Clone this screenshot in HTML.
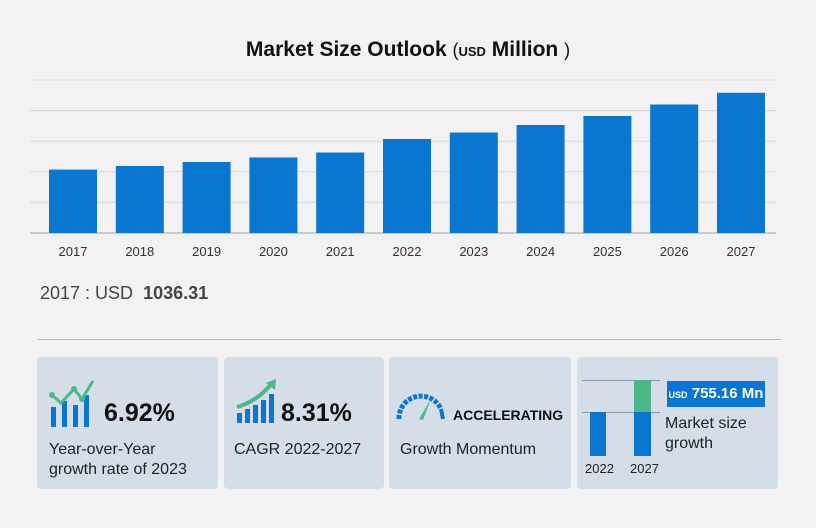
<!DOCTYPE html>
<html><head><meta charset="utf-8"><style>
body{margin:0;width:816px;height:528px;background:#f2f2f4;font-family:"Liberation Sans",sans-serif;position:relative;overflow:hidden}
.a{position:absolute}
.card{position:absolute;top:357px;height:132px;background:#d5dde9;border-radius:4px}
.big{font-weight:bold;font-size:25px;color:#111}
.txt{font-size:16px;color:#222;line-height:20px}
</style></head><body>
<div class="a" style="left:0;width:816px;top:38px;text-align:center;font-weight:bold;font-size:21px;color:#111">Market Size Outlook <span style="font-weight:normal;font-size:18px">(</span><span style="font-size:13px">USD</span> Million <span style="font-weight:normal;font-size:18px">)</span></div>
<svg class="a" style="left:0;top:0" width="816" height="270">
<g id="grid"></g><g id="bars"></g><g id="xl"></g>
</svg>
<div class="a" style="left:40px;top:283px;font-size:18px;color:#444">2017 : USD &nbsp;<b>1036.31</b></div>
<div class="a" style="left:37px;top:339px;width:744px;height:1px;background:#b8b8cc"></div>

<div class="card" style="left:37px;width:181px">
<svg class="a" style="left:12px;top:20px" width="50" height="52">
<rect x="2" y="30" width="5" height="20" fill="#0a76d0"/><rect x="13" y="24" width="5" height="26" fill="#0a76d0"/><rect x="24" y="28" width="5" height="22" fill="#0a76d0"/><rect x="35" y="18" width="5" height="32" fill="#0a76d0"/>
<polyline points="3,18 12,26 25,12 33,22 44,4" fill="none" stroke="#4cb88a" stroke-width="3"/><circle cx="3" cy="18" r="3" fill="#4cb88a"/><circle cx="25" cy="12" r="3" fill="#4cb88a"/><circle cx="33" cy="22" r="3" fill="#4cb88a"/></svg>
<div class="a big" style="left:67px;top:42px">6.92%</div>
<div class="a txt" style="left:12px;top:83px">Year-over-Year<br>growth rate of 2023</div></div>

<div class="card" style="left:224px;width:160px">
<svg class="a" style="left:12px;top:22px" width="44" height="46">
<rect x="1" y="34" width="5" height="10" fill="#0a76d0"/><rect x="9" y="30" width="5" height="14" fill="#0a76d0"/><rect x="17" y="26" width="5" height="18" fill="#0a76d0"/><rect x="25" y="21" width="5" height="23" fill="#0a76d0"/><rect x="33" y="15" width="5" height="29" fill="#0a76d0"/>
<path d="M1,28 Q22,22 36,4" fill="none" stroke="#4cb88a" stroke-width="4"/><polygon points="30,4 40,0 39,11" fill="#4cb88a"/></svg>
<div class="a big" style="left:57px;top:42px">8.31%</div>
<div class="a txt" style="left:10px;top:83px">CAGR 2022-2027</div></div>

<div class="card" style="left:389px;width:182px">
<svg class="a" style="left:6px;top:30px" width="52" height="36">
<path d="M4,32 A22,22 0 0 1 46,22" fill="none" stroke="#0a76d0" stroke-width="5" stroke-dasharray="4 1.5"/><line x1="46" y1="22" x2="48" y2="32" stroke="#0a76d0" stroke-width="4"/><polygon points="24,32 36,12 28,33" fill="#4cb88a"/></svg>
<div class="a" style="left:64px;top:50px;font-weight:bold;font-size:14px;color:#111">ACCELERATING</div>
<div class="a txt" style="left:11px;top:83px">Growth Momentum</div></div>

<div class="card" style="left:577px;width:201px">
<div class="a" style="left:5px;top:23px;width:78px;height:1px;background:#8a9aae"></div>
<div class="a" style="left:5px;top:55px;width:78px;height:1px;background:#8a9aae"></div>
<div class="a" style="left:13px;top:55px;width:16px;height:44px;background:#0a76d0"></div>
<div class="a" style="left:57px;top:55px;width:17px;height:44px;background:#0a76d0"></div>
<div class="a" style="left:57px;top:23px;width:17px;height:32px;background:#4cb88a"></div>
<div class="a" style="left:8px;top:104px;font-size:13px;color:#222">2022</div>
<div class="a" style="left:53px;top:104px;font-size:13px;color:#222">2027</div>
<div class="a" style="left:90px;top:24px;width:98px;height:26px;background:#0a76d0;color:#fff;font-weight:bold;font-size:15px;line-height:26px;text-align:center"><span style="font-size:9px">USD</span> 755.16 Mn</div>
<div class="a txt" style="left:88px;top:57px">Market size<br>growth</div></div>

<script>
const years=["2017","2018","2019","2020","2021","2022","2023","2024","2025","2026","2027"];
const values=[1036.31,1095,1160,1234,1315,1536,1642,1765,1912,2100,2291];
const ticks=[0,500,1000,1500,2000,2500];
const NS="http://www.w3.org/2000/svg";
const y=v=>233-v*(153/2500);
const x=i=>73+i*66.8;
const g=document.getElementById('grid'),b=document.getElementById('bars'),xl=document.getElementById('xl');
ticks.forEach(t=>{const l=document.createElementNS(NS,'line');


l.setAttribute('x1',30);l.setAttribute('x2',776);l.setAttribute('y1',y(t));l.setAttribute('y2',y(t));
l.setAttribute('stroke',t===0?'#a0a0a0':'#d6d6da');l.setAttribute('stroke-width',1);g.appendChild(l);});
values.forEach((v,i)=>{const r=document.createElementNS(NS,'rect');


r.setAttribute('x',x(i)-24);r.setAttribute('width',48);r.setAttribute('y',y(v));r.setAttribute('height',233-y(v));r.setAttribute('fill','#0a76d0');b.appendChild(r);
const t=document.createElementNS(NS,'text');


t.setAttribute('x',x(i));t.setAttribute('y',256);t.setAttribute('text-anchor','middle');t.setAttribute('font-size','13');t.setAttribute('fill','#333');t.setAttribute('font-family','Liberation Sans, sans-serif');t.textContent=years[i];xl.appendChild(t);});
</script>
</body></html>
